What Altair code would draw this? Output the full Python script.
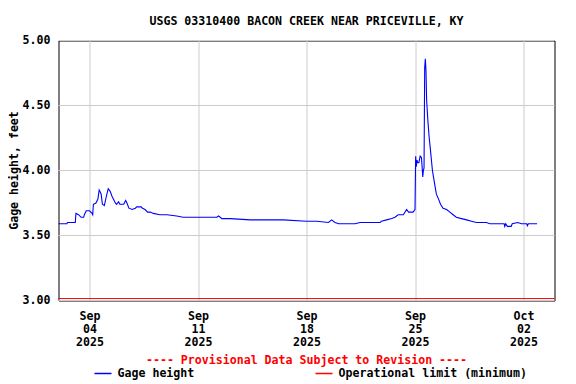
import altair as alt
import pandas as pd

title_text = "USGS 03310400 BACON CREEK NEAR PRICEVILLE, KY"
y_title = "Gage height, feet"
provisional_text = "---- Provisional Data Subject to Revision ----"
legend_series = "Gage height"
legend_limit = "Operational limit (minimum)"

times = [
    "2025-09-02 00:00", "2025-09-02 13:00", "2025-09-02 14:00", "2025-09-03 02:00",
    "2025-09-03 03:00", "2025-09-03 07:00", "2025-09-03 11:00", "2025-09-03 15:00",
    "2025-09-03 16:00", "2025-09-03 19:00", "2025-09-04 00:00", "2025-09-04 04:00",
    "2025-09-04 05:00", "2025-09-04 06:00", "2025-09-04 10:00", "2025-09-04 13:00",
    "2025-09-04 15:00", "2025-09-04 18:00", "2025-09-04 20:00", "2025-09-04 23:00",
    "2025-09-05 02:00", "2025-09-05 05:00", "2025-09-05 08:00", "2025-09-05 11:00",
    "2025-09-05 13:00", "2025-09-05 16:00", "2025-09-05 18:00", "2025-09-05 21:00",
    "2025-09-05 23:00", "2025-09-06 05:00", "2025-09-06 08:00", "2025-09-06 10:00",
    "2025-09-06 13:00", "2025-09-06 18:00", "2025-09-06 23:00", "2025-09-07 01:00",
    "2025-09-07 08:00", "2025-09-07 10:00", "2025-09-07 14:00", "2025-09-07 18:00",
    "2025-09-07 22:00", "2025-09-08 03:00", "2025-09-08 13:00", "2025-09-09 00:00",
    "2025-09-09 15:00", "2025-09-10 01:00", "2025-09-10 22:00", "2025-09-11 14:00",
    "2025-09-12 05:00", "2025-09-12 08:00", "2025-09-12 13:00", "2025-09-13 02:00",
    "2025-09-14 09:00", "2025-09-15 00:00", "2025-09-15 21:00", "2025-09-16 12:00",
    "2025-09-18 00:00", "2025-09-18 16:00", "2025-09-19 10:00", "2025-09-19 15:00",
    "2025-09-19 20:00", "2025-09-20 02:00", "2025-09-20 14:00", "2025-09-21 03:00",
    "2025-09-21 11:00", "2025-09-22 18:00", "2025-09-22 20:00", "2025-09-23 04:00",
    "2025-09-23 12:00", "2025-09-23 17:00", "2025-09-23 22:00", "2025-09-24 06:00",
    "2025-09-24 11:00", "2025-09-24 14:00", "2025-09-24 21:00", "2025-09-25 00:00",
    "2025-09-25 01:00", "2025-09-25 02:00", "2025-09-25 03:00", "2025-09-25 04:30",
    "2025-09-25 06:00", "2025-09-25 08:00", "2025-09-25 10:00", "2025-09-25 11:00",
    "2025-09-25 12:00", "2025-09-25 13:00", "2025-09-25 14:00", "2025-09-25 15:00",
    "2025-09-25 16:00", "2025-09-25 17:00", "2025-09-25 18:00", "2025-09-25 20:00",
    "2025-09-25 22:00", "2025-09-25 23:30", "2025-09-26 02:00", "2025-09-26 03:00",
    "2025-09-26 05:00", "2025-09-26 07:00", "2025-09-26 09:00", "2025-09-26 12:30",
    "2025-09-26 15:30", "2025-09-26 19:30", "2025-09-27 01:00", "2025-09-27 06:00",
    "2025-09-27 11:00", "2025-09-27 16:00", "2025-09-28 00:00", "2025-09-28 08:00",
    "2025-09-28 15:30", "2025-09-28 23:00", "2025-09-29 14:30", "2025-09-29 20:00",
    "2025-09-30 18:00", "2025-09-30 19:00", "2025-09-30 20:30", "2025-09-30 23:00",
    "2025-10-01 05:00", "2025-10-01 06:30", "2025-10-01 15:00", "2025-10-01 21:00",
    "2025-10-02 05:00", "2025-10-02 06:00", "2025-10-02 07:30", "2025-10-02 21:00",
]

gage_height = [
    3.59, 3.59, 3.60, 3.60,
    3.67, 3.66, 3.64, 3.64,
    3.66, 3.69, 3.69, 3.67,
    3.66, 3.74, 3.75, 3.78,
    3.85, 3.82, 3.74, 3.73,
    3.80, 3.86, 3.84, 3.80,
    3.78, 3.75, 3.74, 3.76,
    3.74, 3.74, 3.77, 3.75,
    3.71, 3.70, 3.71, 3.72,
    3.72, 3.71, 3.70, 3.68,
    3.68, 3.67, 3.66, 3.66,
    3.65, 3.64, 3.64, 3.64,
    3.64, 3.65, 3.63, 3.63,
    3.62, 3.62, 3.62, 3.62,
    3.61, 3.61, 3.60, 3.62,
    3.60, 3.59, 3.59, 3.59,
    3.60, 3.60, 3.61, 3.62,
    3.63, 3.64, 3.66, 3.66,
    3.70, 3.68, 3.68, 3.70,
    4.11, 4.03, 4.08, 4.06,
    4.06, 4.11, 4.10, 4.03,
    3.95, 4.00, 4.02, 4.79,
    4.86, 4.77, 4.54, 4.38,
    4.25, 4.18, 4.05, 4.00,
    3.94, 3.88, 3.82, 3.78,
    3.74, 3.71, 3.70, 3.68,
    3.66, 3.64, 3.63, 3.62,
    3.61, 3.60, 3.60, 3.59,
    3.59, 3.57, 3.59, 3.57,
    3.57, 3.59, 3.60, 3.59,
    3.59, 3.575, 3.59, 3.59,
]

operational_limit = [3.015]
y_ticks = [3.0, 3.5, 4.0, 4.5, 5.0]

FONT = "DejaVu Sans Mono"
FS = 11.6
H = 260

df = pd.DataFrame({"time": pd.to_datetime(times), "height": gage_height})
lim_df = pd.DataFrame({"limit": operational_limit})
one = pd.DataFrame({"k": [0]})

x_enc = alt.X(
    "time:T",
    scale=alt.Scale(domain=[alt.DateTime(year=2025, month=9, date=2),
                            alt.DateTime(year=2025, month=10, date=4)]),
    axis=alt.Axis(
        title=None,
        values=[alt.DateTime(year=2025, month=9, date=d) for d in (4, 11, 18, 25)]
        + [alt.DateTime(year=2025, month=10, date=2)],
        labelExpr="[timeFormat(datum.value, '%b'), timeFormat(datum.value, '%d'), timeFormat(datum.value, '%Y')]",
        labelLineHeight=13,
        labelPadding=10,
        labelBaseline="top",
        ticks=False,
        domain=False,
        grid=True,
        gridColor="#cccccc",
        labelFont=FONT, labelFontSize=FS, labelFontWeight="bold", labelColor="black",
    ),
)

y_enc = alt.Y(
    "height:Q",
    scale=alt.Scale(domain=[3.0, 5.0], nice=False, zero=False),
    axis=alt.Axis(
        title=y_title,
        values=y_ticks,
        format=".2f",
        ticks=False,
        domain=False,
        grid=True,
        gridColor="#cccccc",
        translate=0,
        labelPadding=8,
        labelFont=FONT, labelFontSize=FS, labelFontWeight="bold", labelColor="black",
        titleFont=FONT, titleFontSize=FS, titleFontWeight="bold", titleColor="black",
        titleX=-44, titleY=H / 2, titleAngle=-90, titleAlign="center", titleBaseline="middle",
    ),
)

line = alt.Chart(df).mark_line(color="#0000ff", strokeWidth=1.1).encode(x=x_enc, y=y_enc)

limit = alt.Chart(lim_df).mark_rule(color="#ff0000", strokeWidth=1).encode(
    y=alt.Y("limit:Q", scale=alt.Scale(domain=[3.0, 5.0], nice=False, zero=False))
)

text_style = dict(font=FONT, fontSize=FS, fontWeight="bold", baseline="middle")

prov = alt.Chart(one).mark_text(text=provisional_text, color="#ff0000", align="center", **text_style).encode(
    x=alt.value(248), y=alt.value(320)
)
leg_line1 = alt.Chart(one).mark_rule(color="#0000ff", strokeWidth=1.5).encode(
    x=alt.value(36), x2=alt.value(53), y=alt.value(333)
)
leg_text1 = alt.Chart(one).mark_text(text=legend_series, color="black", align="left", **text_style).encode(
    x=alt.value(59), y=alt.value(333.5)
)
leg_line2 = alt.Chart(one).mark_rule(color="#ff0000", strokeWidth=1.5).encode(
    x=alt.value(257), x2=alt.value(274), y=alt.value(333)
)
leg_text2 = alt.Chart(one).mark_text(text=legend_limit, color="black", align="left", **text_style).encode(
    x=alt.value(280), y=alt.value(333.5)
)

chart = alt.layer(limit, line, prov, leg_line1, leg_text1, leg_line2, leg_text2).properties(
    width=496,
    height=H,
    title=alt.TitleParams(title_text, font=FONT, fontSize=FS, fontWeight="bold", color="black",
                          anchor="middle", offset=7),
    autosize=alt.AutoSizeParams(type="none"),
    padding={"left": 50.5, "top": 32.5, "right": 13.5, "bottom": 83.5},
).configure(background="white").configure_view(stroke="black", strokeWidth=1)

chart.save("out.html", embed_options={"renderer": "svg", "actions": False})
